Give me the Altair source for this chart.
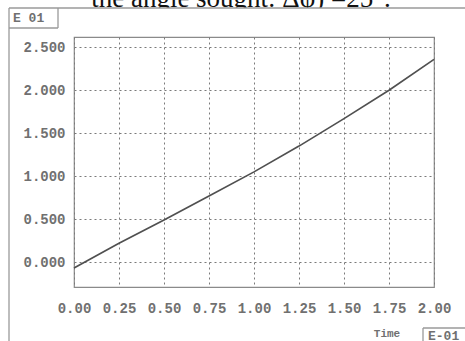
import altair as alt
import pandas as pd

# data
time = [0.0, 0.25, 0.5, 0.75, 1.0, 1.25, 1.5, 1.75, 2.0]
value = [-0.07, 0.22, 0.49, 0.77, 1.05, 1.35, 1.67, 2.00, 2.36]
x_ticks = [0.0, 0.25, 0.5, 0.75, 1.0, 1.25, 1.5, 1.75, 2.0]
y_ticks = [0.0, 0.5, 1.0, 1.5, 2.0, 2.5]

df = pd.DataFrame({"t": time, "v": value})

MONO = "Liberation Mono"
GRAY = "#707070"

xs = alt.Scale(domain=[0, 2], nice=False, zero=False)
ys = alt.Scale(domain=[-0.29, 2.62], nice=False, zero=False)

line = alt.Chart(df).mark_line(color="#505050", strokeWidth=1.7).encode(
    x=alt.X("t:Q", scale=xs, axis=alt.Axis(
        values=x_ticks, format=".2f", title=None, grid=True,
        gridDash=[2, 3], gridColor="#7a7a7a", gridWidth=1,
        domain=False, ticks=False, labelFont=MONO, labelFontSize=14,
        labelFontWeight="bold", labelColor=GRAY, labelPadding=14,
        labelFlush=False)),
    y=alt.Y("v:Q", scale=ys, axis=alt.Axis(
        values=y_ticks, format=".3f", title=None, grid=True,
        gridDash=[2, 3], gridColor="#7a7a7a", gridWidth=1,
        domain=False, ticks=False, labelFont=MONO, labelFontSize=14,
        labelFontWeight="bold", labelColor=GRAY, labelPadding=9)),
)

base = alt.Chart(pd.DataFrame({"a": [0]}))

# top caption text from the document (clipped by the figure)
caption = base.mark_text(font="Liberation Serif", fontSize=27, color="#111",
                         align="center", baseline="alphabetic").encode(
    x=alt.value(167), y=alt.value(-30), text=alt.value("the angle sought: Δφ) =25°."))
cover = base.mark_rect(color="white").encode(
    x=alt.value(-74), x2=alt.value(391), y=alt.value(-29), y2=alt.value(-10))

rule_style = dict(color="#9a9a9a", strokeWidth=1.3)
top_line = base.mark_rule(**rule_style).encode(
    x=alt.value(-65), x2=alt.value(391), y=alt.value(-29))
left_line = base.mark_rule(**rule_style).encode(
    x=alt.value(-65), y=alt.value(-29), y2=alt.value(304))
box_right = base.mark_rule(**rule_style).encode(
    x=alt.value(-16), y=alt.value(-29), y2=alt.value(-9))
box_bottom = base.mark_rule(**rule_style).encode(
    x=alt.value(-65), x2=alt.value(-16), y=alt.value(-9))
e01 = base.mark_text(font=MONO, fontSize=13, fontWeight="bold", color=GRAY,
                     align="left", baseline="middle").encode(
    x=alt.value(-61), y=alt.value(-19), text=alt.value("E 01"))

time_lbl = base.mark_text(font=MONO, fontSize=11, fontWeight="bold", color=GRAY,
                          align="center", baseline="middle").encode(
    x=alt.value(313), y=alt.value(297), text=alt.value("Time"))
box2_left = base.mark_rule(**rule_style).encode(
    x=alt.value(349), y=alt.value(291), y2=alt.value(304))
box2_top = base.mark_rule(**rule_style).encode(
    x=alt.value(349), x2=alt.value(391), y=alt.value(291))
e01b = base.mark_text(font=MONO, fontSize=13, fontWeight="bold", color=GRAY,
                      align="left", baseline="middle").encode(
    x=alt.value(354), y=alt.value(299), text=alt.value("E-01"))

chart = alt.layer(
    caption, cover, line, top_line, left_line, box_right, box_bottom, e01,
    time_lbl, box2_left, box2_top, e01b
).properties(
    width=360, height=250,
    autosize=alt.AutoSizeParams(type="none"),
    padding={"left": 74, "top": 37, "right": 31, "bottom": 54},
    background="white",
).configure_view(stroke="#8a8a8a", strokeWidth=1.2)

chart.save("out.html", embed_options={"renderer": "svg", "actions": False})
